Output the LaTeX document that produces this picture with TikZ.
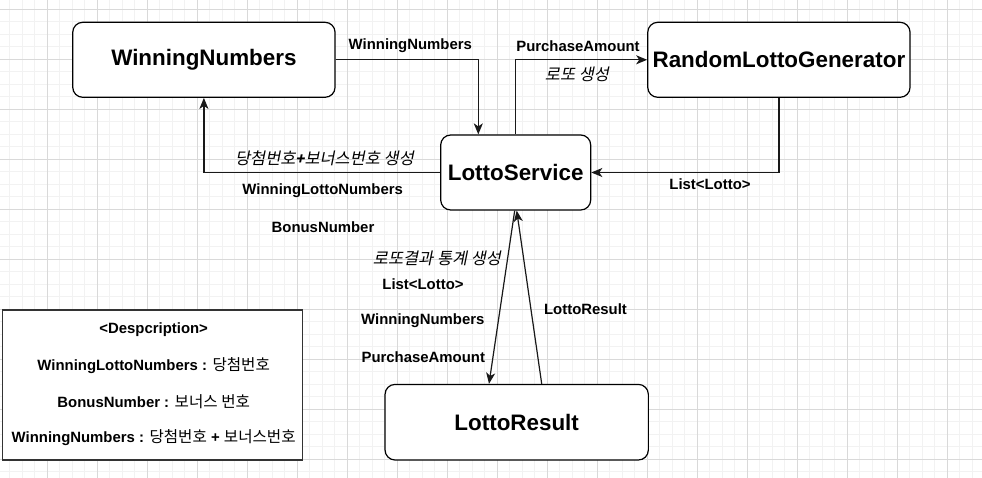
\documentclass[tikz,border=0pt]{standalone}
\usepackage{fontspec}
\setmainfont{Liberation Sans}
\newfontfamily\kr{Noto Sans CJK KR}
\newfontfamily\krit[FakeSlant=0.2]{Noto Sans CJK KR}
\usetikzlibrary{arrows.meta}

\begin{document}
\begin{tikzpicture}[x=1pt,y=-1pt,
    box/.style={draw=black, line width=1.2pt, rounded corners=10pt, fill=white,
        inner sep=0pt, font=\fontsize{22.4}{26}\selectfont\bfseries},
    lbl/.style={inner sep=0pt, font=\fontsize{14.9}{17}\selectfont\bfseries},
    krlbl/.style={inner sep=0pt, font=\fontsize{16.4}{18}\selectfont\krit},
    arr/.style={line width=1.2pt, draw=black!90, -{Stealth[length=11pt,width=9pt,inset=3pt]}}]
    \useasboundingbox (0,0) rectangle (982,478);
    \fill[white] (0,0) rectangle (982,478);
    % grid
    \foreach \x in {9.8,22.3,...,982} \draw[black!5, line width=1pt] (\x,0) -- (\x,478);
    \foreach \y in {9.3,21.8,...,478} \draw[black!5, line width=1pt] (0,\y) -- (982,\y);
    \foreach \x in {47.3,97.3,...,982} \draw[black!15, line width=1pt] (\x,0) -- (\x,478);
    \foreach \y in {9.3,59.3,...,478} \draw[black!15, line width=1pt] (0,\y) -- (982,\y);

    % classes
    \node[box, minimum width=262.3, minimum height=75] (wn) at (203.9,59.8) {WinningNumbers};
    \node[box, minimum width=262.3, minimum height=75] (rlg) at (778.9,59.8) {RandomLottoGenerator};
    \node[box, minimum width=150, minimum height=75] (ls) at (515.7,172.5) {LottoService};
    \node[box, minimum width=263.3, minimum height=75.6] (lr) at (516.7,422.2) {LottoResult};

    % connectors
    \draw[arr] (wn.east) -| ([xshift=-37.4]ls.north);
    \draw[arr] (ls.north) |- (rlg.west);
    \draw[arr] (rlg.south) |- (ls.east);
    \draw[arr] (ls.west) -| (wn.south);
    \draw[arr] ([xshift=-1]ls.south) -- ([xshift=-27.7]lr.north);
    \draw[arr] ([xshift=25]lr.north) -- ([xshift=1]ls.south);

    % labels
    \node[lbl] (wnLbl) at (410.3,45.7) {WinningNumbers};
    \node[lbl] (paLbl) at (578,45.7) {PurchaseAmount};
    \node[krlbl] (genLbl) at (577,74) {로또 생성};
    \node[lbl] (listLbl) at (710,184) {List<Lotto>};
    \node[krlbl] (winGenLbl) at (324.5,158.3)
        {당첨번호{\fontsize{14.9}{17}\selectfont\bfseries\itshape +}보너스번호 생성};
    \node[lbl] (wlnLbl) at (322.7,191) {WinningLottoNumbers};
    \node[lbl] (bnLbl) at (323,227.3) {BonusNumber};
    \node[krlbl] (statLbl) at (437,258.3) {로또결과 통계 생성};
    \node[lbl] (list2Lbl) at (423,284.3) {List<Lotto>};
    \node[lbl] (wn2Lbl) at (422.8,320.7) {WinningNumbers};
    \node[lbl] (pa2Lbl) at (423.3,356.7) {PurchaseAmount};
    \node[lbl] (lrLbl) at (585.5,309) {LottoResult};

    % description
    \draw[draw=black!80, line width=1.4pt, fill=white] (2.3,310) rectangle (302.7,460);
    \node[lbl] (descTitle) at (153.7,330) {<Despcription>};
    \node[lbl] (descWln) at (153.7,365.7) {WinningLottoNumbers : {\kr\mdseries\fontsize{15.6}{17}\selectfont 당첨번호}};
    \node[lbl] (descBn) at (153.7,401.7) {BonusNumber : {\kr\mdseries\fontsize{15.6}{17}\selectfont 보너스 번호}};
    \node[lbl] (descWn) at (153.7,437.3) {WinningNumbers : {\kr\mdseries\fontsize{15.6}{17}\selectfont 당첨번호} + {\kr\mdseries\fontsize{15.6}{17}\selectfont 보너스번호}};
\end{tikzpicture}
\end{document}
